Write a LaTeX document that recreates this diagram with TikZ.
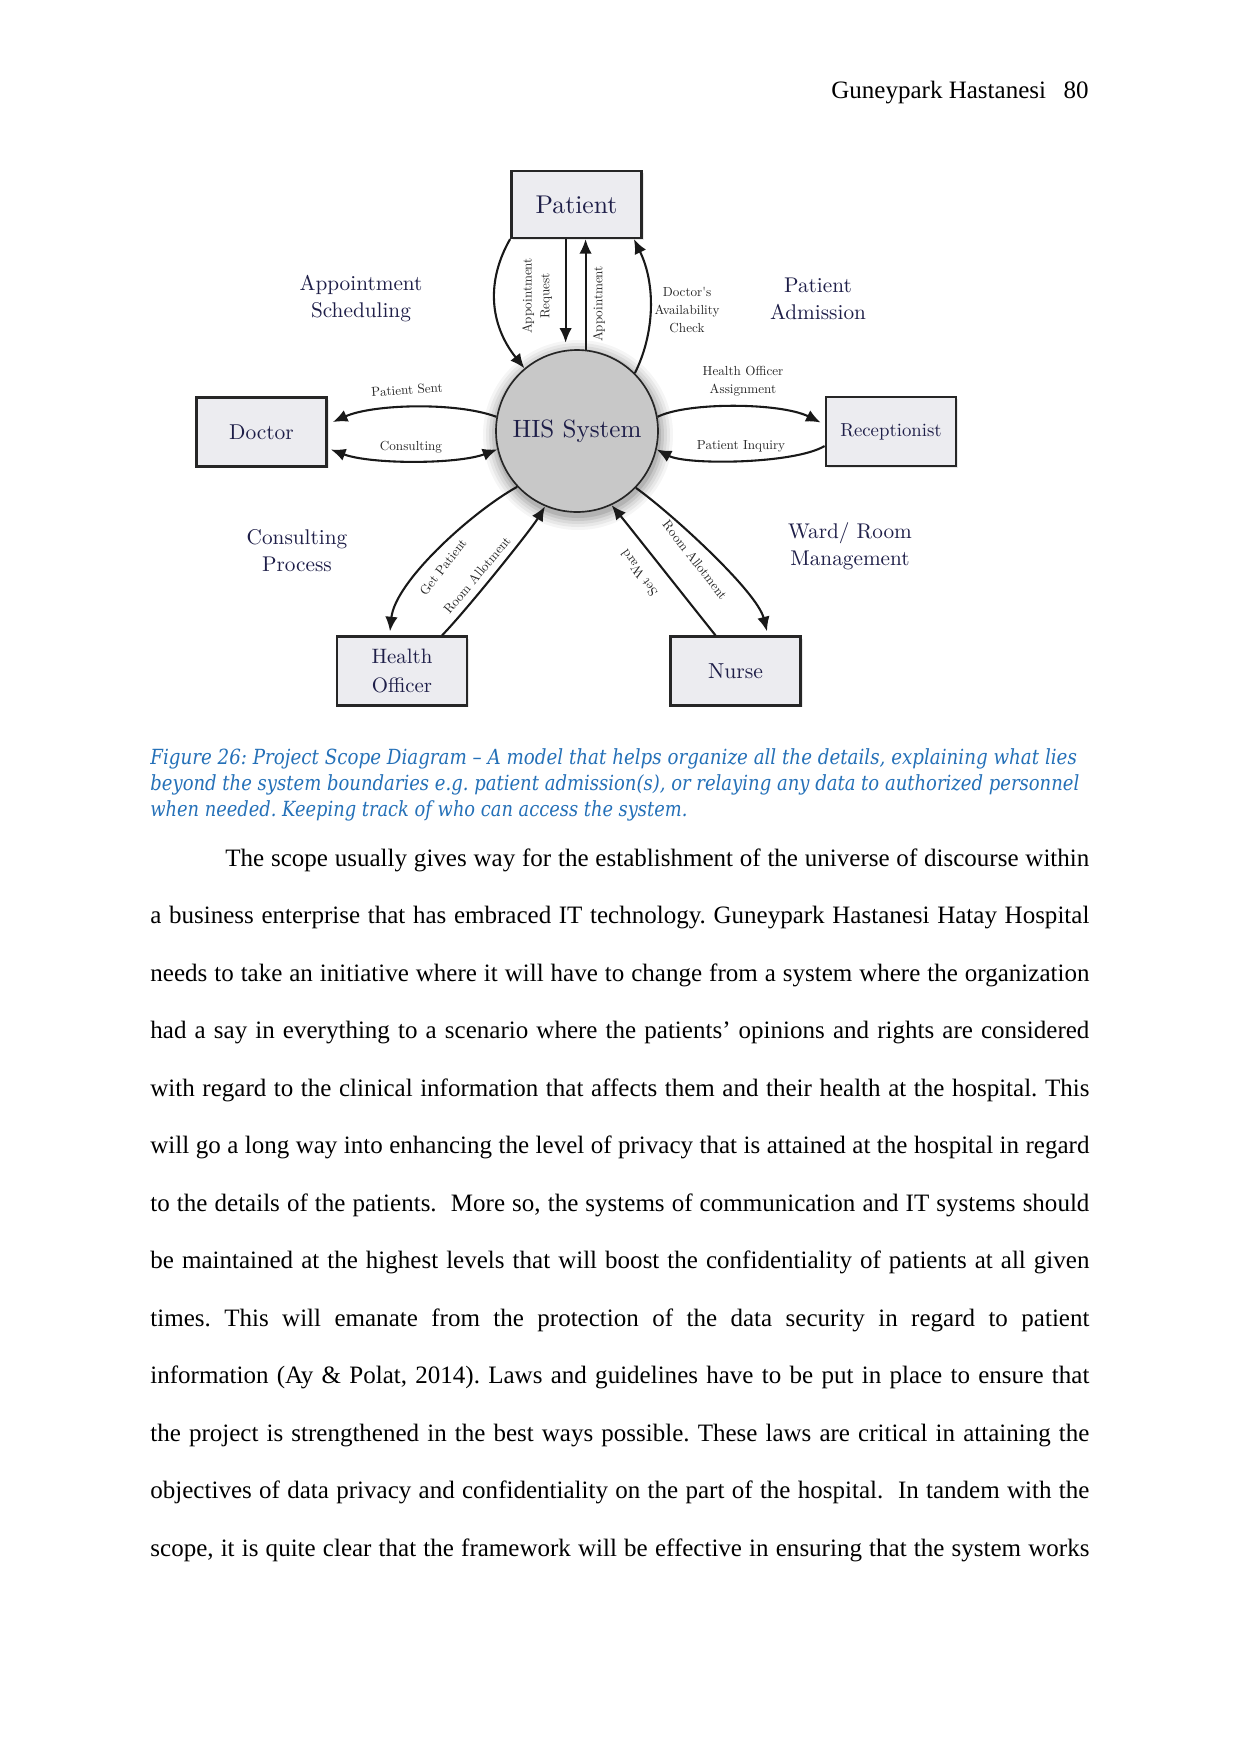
\documentclass[tikz,border=0pt]{standalone}
\usepackage{graphicx}
\usepackage{fontspec}
\setmainfont{Liberation Serif}
\newfontfamily\dfont{lmroman10-regular.otf}
\newfontfamily\capfont{DejaVu Serif}
\usetikzlibrary{arrows.meta,calc,shadows}
\frenchspacing
\definecolor{navy}{HTML}{1E1E48}
\definecolor{capblue}{HTML}{2470B8}
\definecolor{boxfill}{HTML}{ECECF0}
\definecolor{hisfill}{HTML}{C8C8C8}
\newsavebox\fitbox
\newcommand\fitto[2]{\sbox\fitbox{#2}\pgfmathsetmacro\fitf{#1/\wd\fitbox}\scalebox{\fitf}[1]{\usebox\fitbox}}
\tikzset{
  bodyline/.style={anchor=base west,inner sep=0pt,font=\fontsize{12}{14}\selectfont},
  capline/.style={anchor=base west,inner sep=0pt,text=capblue,font=\capfont\itshape\fontsize{10}{12}\selectfont},
  ebox/.style={draw=black!85,line width=1.2pt,fill=boxfill,minimum width=62.5pt,minimum height=33pt,inner sep=0pt,text=navy,align=center,
    drop shadow={opacity=0.18,shadow xshift=1pt,shadow yshift=-1pt}},
  hisc/.style={circle,draw=black!85,line width=0.8pt,fill=hisfill,minimum size=77.7pt,inner sep=0pt,text=navy,font=\dfont\fontsize{12}{14}\selectfont},
  biglbl/.style={text=navy,align=center,inner sep=0pt,font=\dfont\fontsize{10.2}{13}\selectfont},
  smlbl/.style={text=black!85,align=center,inner sep=0pt,font=\dfont\fontsize{6.3}{8.5}\selectfont},
  conn/.style={-{Latex[length=7pt,width=6pt]},line width=1pt,draw=black!90},
  conn2/.style={{Latex[length=7pt,width=6pt]}-{Latex[length=7pt,width=6pt]},line width=1pt,draw=black!90}
}
\begin{document}
\begin{tikzpicture}[x=0.47967pt,y=-0.47967pt]
\useasboundingbox (0,0) rectangle (1241,1754);
\fill[white] (0,0) rectangle (1241,1754);

% header
\node[anchor=base east,inner sep=0pt,font=\fontsize{12}{14}\selectfont] (hdr) at (1089,98) {Guneypark Hastanesi\hspace{0.7em}80};

% soft halo of the circle
\foreach \k/\o in {14/0.04,11/0.05,8/0.06,5/0.08,2/0.1}{
  \fill[black,opacity=\o] (578,435) circle ({81+\k});
}

% entities
\node[ebox,minimum height=32pt,font=\dfont\fontsize{12.3}{14}\selectfont] (patient) at (576.5,204.5) {Patient};
\node[ebox,font=\dfont\fontsize{10.3}{13}\selectfont] (doctor) at (261.5,432) {Doctor};
\node[ebox,font=\dfont\fontsize{9}{12}\selectfont] (recep) at (891,431.5) {Receptionist};
\node[ebox,font=\dfont\fontsize{10}{13.9}\selectfont] (ho) at (402,671) {Health\\Officer};
\node[ebox,font=\dfont\fontsize{10.4}{13}\selectfont] (nurse) at (735.5,671) {Nurse};
\node[hisc] (his) at (577,431) {HIS System};

% connectors
\draw[conn] (patient.south west) .. controls +(-24,42) and +(-35,-44) .. (his.130);
\draw[conn,shorten >=3.5pt] (patient.south -| his.98) -- (his.98);
\draw[conn] (his.84) -- (patient.south -| his.84);
\draw[conn] (his.45) .. controls +(20,-40) and +(22,45) .. ($(patient.south east)+(-9,0)$);
\draw[conn] (his.10) .. controls +(30,-15) and +(-40,-20) .. ($(recep.west)+(-4,-9)$);
\draw[conn] ($(recep.west)+(0,14.5)$) .. controls +(-30,18) and +(30,16) .. (his.-13);
\draw[conn] (his.170) .. controls +(-40,-15) and +(40,-18) .. ($(doctor.east)+(5,-10)$);
\draw[conn2] ($(doctor.east)+(3,17.5)$) .. controls +(40,15) and +(-40,15) .. (his.193);
\draw[conn] (his.223) .. controls +(-45,25) and +(5,-50) .. ($(ho.north)+(-12,-4)$);
\draw[conn] ($(ho.north)+(40,0)$) .. controls +(20,-20) and +(-15,25) .. (his.247);
\draw[conn] ($(nurse.north)+(-20,0)$) .. controls +(-20,-25) and +(15,18) .. (his.-65);
\draw[conn] (his.-44) .. controls +(35,25) and +(-10,-40) .. ($(nurse.north)+(31.5,-4)$);

% connector labels
\node[smlbl,rotate=90] (l1) at (537,296) {Appointment\\Request};
\node[smlbl,rotate=90] (l2) at (599,304) {Appointment};
\node[smlbl] (l3) at (687,310) {Doctor's\\Availability\\Check};
\node[smlbl] (l4) at (743,381) {Health Officer\\Assignment};
\node[smlbl] (l5) at (741,446) {Patient Inquiry};
\node[smlbl,rotate=4] (l6) at (407,390) {Patient Sent};
\node[smlbl] (l7) at (411,447) {Consulting};
\node[smlbl,rotate=52] (l8) at (443,567) {Get Patient};
\node[smlbl,rotate=50] (l9) at (477,575) {Room Allotment};
\node[smlbl,rotate=-52] (l10) at (695,560) {Room Allotment};
\node[smlbl,rotate=125] (l11) at (639,573) {Set Ward};

% process labels
\node[biglbl] (g1) at (361,299) {Appointment\\Scheduling};
\node[biglbl] (g2) at (818,299) {Patient\\Admission};
\node[biglbl] (g3) at (297,551) {Consulting\\Process};
\node[biglbl] (g4) at (850,546) {Ward/ Room\\Management};

% caption
\node[capline] (c1) at (150,764) {\fitto{444.4}{Figure 26: Project Scope Diagram – A model that helps organize all the details, explaining what lies}};
\node[capline] (c2) at (150,790) {\fitto{445.6}{beyond the system boundaries e.g. patient admission(s), or relaying any data to authorized personnel}};
\node[capline] (c3) at (150,816) {\fitto{257.6}{when needed. Keeping track of who can access the system.}};

% body text
\node[bodyline] (b1) at (225,866.2) {\makebox[414.4pt][s]{The scope usually gives way for the establishment of the universe of discourse within}};
\node[bodyline] (b2) at (150,923.7) {\makebox[450.4pt][s]{a business enterprise that has embraced IT technology. Guneypark Hastanesi Hatay Hospital}};
\node[bodyline] (b3) at (150,981.2) {\makebox[450.4pt][s]{needs to take an initiative where it will have to change from a system where the organization}};
\node[bodyline] (b4) at (150,1038.7) {\makebox[450.4pt][s]{had a say in everything to a scenario where the patients’ opinions and rights are considered}};
\node[bodyline] (b5) at (150,1096.2) {\makebox[450.4pt][s]{with regard to the clinical information that affects them and their health at the hospital. This}};
\node[bodyline] (b6) at (150,1153.7) {\makebox[450.4pt][s]{will go a long way into enhancing the level of privacy that is attained at the hospital in regard}};
\node[bodyline] (b7) at (150,1211.2) {\makebox[450.4pt][s]{to the details of the patients.\ \ More so, the systems of communication and IT systems should}};
\node[bodyline] (b8) at (150,1268.7) {\makebox[450.4pt][s]{be maintained at the highest levels that will boost the confidentiality of patients at all given}};
\node[bodyline] (b9) at (150,1326.2) {\makebox[450.4pt][s]{times. This will emanate from the protection of the data security in regard to patient}};
\node[bodyline] (b10) at (150,1383.7) {\makebox[450.4pt][s]{information (Ay \& Polat, 2014). Laws and guidelines have to be put in place to ensure that}};
\node[bodyline] (b11) at (150,1441.2) {\makebox[450.4pt][s]{the project is strengthened in the best ways possible. These laws are critical in attaining the}};
\node[bodyline] (b12) at (150,1498.7) {\makebox[450.4pt][s]{objectives of data privacy and confidentiality on the part of the hospital.\ \ In tandem with the}};
\node[bodyline] (b13) at (150,1556.2) {\makebox[450.4pt][s]{scope, it is quite clear that the framework will be effective in ensuring that the system works}};
\end{tikzpicture}
\end{document}
